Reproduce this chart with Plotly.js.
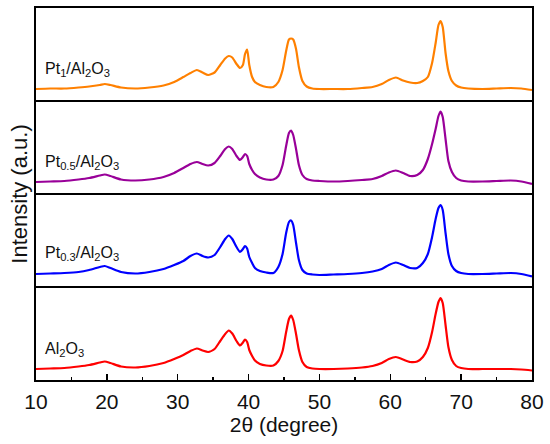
<!DOCTYPE html>
<html>
<head>
<meta charset="utf-8">
<script src="https://cdn.plot.ly/plotly-3.0.1.min.js"></script>
<style>html,body{margin:0;padding:0;background:#fff;}#chart{width:550px;height:444px;}</style>
</head>
<body>
<div id="chart"></div>
<script>
// 2-theta sample positions (degree)
const twoTheta = [10,12,14,16,17.5,19,19.7,20.5,22,24,26,28,29.5,30.8,31.8,32.7,33.5,34.3,35.2,36.0,36.7,37.2,37.7,38.3,38.8,39.2,39.5,39.8,40.1,40.5,40.9,41.6,42.5,43.5,44.2,44.8,45.3,45.7,46.0,46.3,46.7,47.1,47.6,48.2,49.0,50,52,54,56,57.5,58.8,59.8,60.8,61.8,62.8,63.8,64.6,65.3,65.9,66.4,66.8,67.1,67.4,67.8,68.2,68.7,69.3,70,71,73,75,77,78.5,80];

// Intensities (a.u.), each relative to its own panel baseline
const pt1 = [12,12.5,12.5,13.5,14.5,16,17,16,13.5,12.5,13.5,15.5,19,24,28,31,28.5,26,28.5,36,42.5,45,43.5,37,33,36,47,51.5,36,24,19,16,14,14,19,31,50,61.5,62.5,61.5,52,34,20,14.5,12.5,12,12,12,13,14,17,21,23.5,20.5,18.5,18,20,24,38,58,76,80,74,48,30,20,15.5,13.5,12.5,12,12.5,13,12.5,11];
const pt05 = [12,12.5,13,14.5,16,18.5,19.5,18,14.5,13.5,14.5,17,21,26,30,32,30,28.5,31,38,45,47.5,45,38,34,37,40,38,30,24,20,16.5,14.5,14.5,18,29,48,61,63.5,59,45,29,19,15,13.5,13,12.5,13,14,15,18,21.5,23.5,21,18,19,24,35,50,65,78,82.5,77,55,33,22,16,13.5,12.5,12.5,13,13.5,12.5,10];
const pt03 = [13,13.5,14,15,17,20,21,19,15,13.5,15,18,22,26,31,33.5,31,29.5,32,40,48,51.5,48,40,35,38,41,38.5,30,24,19,16,14.5,14,20,33,54,65,66.5,62,44,27,17,13.5,12.5,12,12.5,13,14,15.5,18,22,24.5,22,19,19,24,33,50,68,79,82,77,54,33,21,16,14,13,13,13.5,14,13,10.5];
const al2o3 = [11,11.5,12,13.5,15,17.5,18.5,17,13.5,12.5,14,17,21,25,29,31.5,29.5,28,31,39,46,49.5,46.5,39,34.5,37.5,40.5,38,30,24,19.5,16,14.5,14.5,19,29,48,61,64.5,60,46,30,18,13,11.5,11,11,11.5,12.5,14,17,21,23,20.5,18,18.5,23,32,48,66,78,82,77,55,33,20,14,12,11,11,11,11,10.5,9.5];

const seriesNames = ["Pt<sub>1</sub>/Al<sub>2</sub>O<sub>3</sub>", "Pt<sub>0.5</sub>/Al<sub>2</sub>O<sub>3</sub>", "Pt<sub>0.3</sub>/Al<sub>2</sub>O<sub>3</sub>", "Al<sub>2</sub>O<sub>3</sub>"];
const seriesData = [pt1, pt05, pt03, al2o3];
const seriesColors = ["#FF8000", "#990099", "#0000FF", "#FF0000"];
const xTicks = [10,20,30,40,50,60,70,80];

const panelH = 93;           // height of one stacked panel in y units
const nPanels = seriesData.length;
const labelLift = [32, 32, 34, 31];
const FONT = 'Liberation Sans, Arial, Helvetica, sans-serif';

const traces = seriesData.map((vals, i) => {
  const off = (nPanels - 1 - i) * panelH;
  return {
    x: twoTheta,
    y: vals.map(v => v + off),
    type: 'scatter',
    mode: 'lines',
    line: {color: seriesColors[i], width: 2.2, shape: 'spline', smoothing: 0.6},
    hoverinfo: 'skip',
    showlegend: false
  };
});

const shapes = [];
for (let k = 1; k < nPanels; k++) {
  shapes.push({type: 'line', xref: 'paper', x0: 0, x1: 1, yref: 'y', y0: k * panelH, y1: k * panelH,
               line: {color: '#000', width: 1.8}});
}

const annotations = seriesNames.map((name, i) => ({
  text: name, xref: 'paper', x: 0.014, xanchor: 'left',
  yref: 'y', y: (nPanels - 1 - i) * panelH + labelLift[i], yanchor: 'middle',
  showarrow: false, font: {family: FONT, size: 16, color: '#111'}
}));

const layout = {
  width: 550, height: 444,
  margin: {l: 36, r: 18, t: 8, b: 64},
  paper_bgcolor: '#fff', plot_bgcolor: '#fff',
  font: {family: FONT, color: '#111'},
  xaxis: {
    range: [10, 80], tickvals: xTicks, ticktext: xTicks.map(String),
    ticks: 'inside', ticklen: 6, tickwidth: 1.5, tickcolor: '#000',
    minor: {dtick: 5, tick0: 5, ticks: 'inside', ticklen: 3, tickwidth: 1.5, tickcolor: '#000'},
    showline: true, linecolor: '#000', linewidth: 1.8, mirror: true,
    showgrid: false, zeroline: false,
    tickfont: {family: FONT, size: 21, color: '#111'}, ticklabelstandoff: 2,
    title: {text: '2θ (degree)', font: {family: FONT, size: 21, color: '#111'}, standoff: 2}
  },
  yaxis: {
    range: [0, panelH * nPanels],
    showticklabels: false, ticks: '', showgrid: false, zeroline: false,
    showline: true, linecolor: '#000', linewidth: 1.8, mirror: true,
    title: {text: 'Intensity (a.u.)', font: {family: FONT, size: 22, color: '#111'}, standoff: 0}
  },
  shapes: shapes,
  annotations: annotations
};

Plotly.newPlot('chart', traces, layout, {displayModeBar: false, staticPlot: true});
</script>
</body>
</html>
